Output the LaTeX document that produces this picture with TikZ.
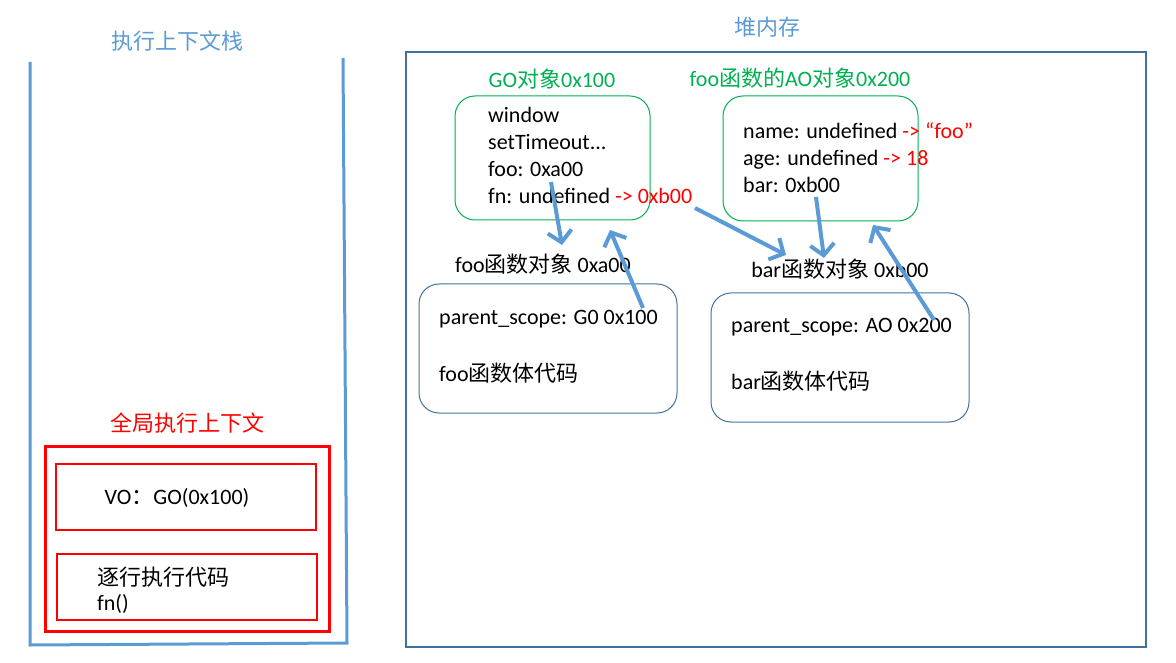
\documentclass[tikz,border=0pt]{standalone}
\usepackage{fontspec}
\setmainfont{Carlito}
\newfontfamily\cjk{Noto Sans CJK SC}
\usetikzlibrary{arrows.meta}

\definecolor{stackblue}{RGB}{91,155,213}
\definecolor{heapblue}{RGB}{65,113,156}
\definecolor{objgreen}{RGB}{0,176,80}

\tikzset{
  title/.style={inner sep=0pt, font=\cjk\fontsize{22}{26}\selectfont},
  txt/.style={inner sep=0pt, anchor=west, align=left, font=\fontsize{22}{27}\selectfont},
  label/.style={inner sep=0pt, font=\fontsize{22}{26}\selectfont},
  redbox/.style={draw=red, line width=2pt, inner sep=0pt},
  objbox/.style={draw=objgreen, line width=1pt, rounded corners=20pt, inner sep=0pt},
  funbox/.style={draw=heapblue, line width=1pt, rounded corners=20pt, inner sep=0pt},
  ptr/.style={draw=stackblue, line width=4pt, -{Straight Barb[length=11pt,width=24pt]}}
}

\begin{document}
\begin{tikzpicture}[x=1pt,y=-1pt]
\useasboundingbox (0,0) rectangle (1176,663);

% execution context stack
\node[title, text=stackblue] (stacktitle) at (177,41) {执行上下文栈};
\draw[stackblue, line width=3pt] (30,62) -- (30,645) -- (347,643) -- (343,58);
\node[title, text=red] (globaltitle) at (187,423) {全局执行上下文};
\node[redbox, line width=3pt, minimum width=284pt, minimum height=185pt] (globalctx) at (187,538.5) {};
\node[redbox, minimum width=260pt, minimum height=66pt] (vobox) at (186,497) {};
\node[label] (votext) at (177,498) {VO{\cjk ：}GO(0x100)};
\node[redbox, minimum width=260pt, minimum height=66pt] (codebox) at (187,587) {};
\node[txt, font=\fontsize{22}{25}\selectfont] (codetext) at (97,590) {{\cjk 逐行执行代码}\\fn()};

% heap
\node[title, text=stackblue] (heaptitle) at (767,27) {堆内存};
\node[draw=heapblue, line width=2.5pt, minimum width=740pt, minimum height=595pt] (heap) at (776,349.5) {};

% GO object
\node[title, text=objgreen] (gotitle) at (552,79) {{\fontspec{Carlito}GO}对象{\fontspec{Carlito}0x100}};
\node[objbox, minimum width=195pt, minimum height=124pt] (gobox) at (552.5,158) {};
\node[txt] (gotext) at (488,155.5) {window\\setTimeout...\\foo: 0xa00\\fn: undefined {\color{red}-> 0xb00}};

% AO object
\node[title, text=objgreen] (aotitle) at (800,78) {{\fontspec{Carlito}foo}函数的{\fontspec{Carlito}AO}对象{\fontspec{Carlito}0x200}};
\node[objbox, minimum width=195pt, minimum height=125pt] (aobox) at (820.5,158.5) {};
\node[txt] (aotext) at (743,158) {name: undefined {\color{red}-> “foo”}\\age: undefined {\color{red}-> 18}\\bar: 0xb00};

% foo function object
\node[label] (footitle) at (543,264) {foo{\cjk 函数对象} 0xa00};
\node[funbox, minimum width=258pt, minimum height=129pt] (foobox) at (548,348.5) {};
\node[txt] (fooscope) at (439,319) {parent\_scope: G0 0x100};
\node[txt] (foocode) at (439,373) {foo{\cjk 函数体代码}};

% bar function object
\node[label] (bartitle) at (840,269) {bar{\cjk 函数对象} 0xb00};
\node[funbox, minimum width=258pt, minimum height=129pt] (barbox) at (840,357.5) {};
\node[txt] (barscope) at (731,327) {parent\_scope: AO 0x200};
\node[txt] (barcode) at (731,381) {bar{\cjk 函数体代码}};

% pointers
\coordinate (fooref) at (551,182);
\coordinate (fooin) at (562,245);
\coordinate (fooparent) at (643,308);
\coordinate (goin) at (610,230);
\coordinate (fnref) at (695,208);
\coordinate (barin) at (786,255);
\coordinate (barref) at (816,197);
\coordinate (barin2) at (824,258);
\coordinate (barparent) at (934,320);
\coordinate (aoin) at (873,225);
\draw[ptr] (fooref) -- (fooin);
\draw[ptr] (fooparent) -- (goin);
\draw[ptr] (fnref) -- (barin);
\draw[ptr] (barref) -- (barin2);
\draw[ptr] (barparent) -- (aoin);
\end{tikzpicture}
\end{document}
